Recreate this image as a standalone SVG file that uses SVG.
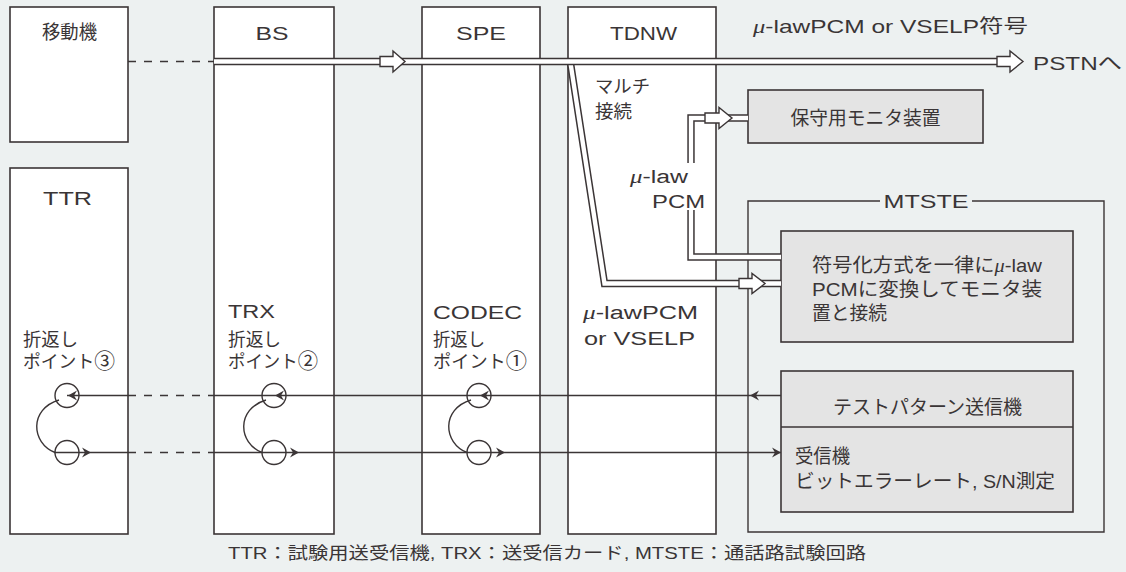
<svg xmlns="http://www.w3.org/2000/svg" width="1126" height="572" viewBox="0 0 1126 572">
<style>
.bg{fill:#edf1f1}
.box{fill:#ffffff;stroke:#3b3536;stroke-width:1.6}
.gbox{fill:#e4e4e4;stroke:#3b3536;stroke-width:1.6}
.ln{fill:none;stroke:#3b3536;stroke-width:1.4}
.dash{fill:none;stroke:#3b3536;stroke-width:1.4;stroke-dasharray:8 8}
.pipeO{fill:none;stroke:#3b3536;stroke-width:7.4;stroke-linejoin:miter}
.pipeI{fill:none;stroke:#ffffff;stroke-width:4.4;stroke-linejoin:miter}
.harr{fill:#ffffff;stroke:#3b3536;stroke-width:1.4;stroke-linejoin:miter}
.ah{fill:#3b3536}
text{font-family:"Liberation Sans","Noto Sans CJK JP",sans-serif;fill:#3a3536}
.h{font-size:19px}
.t{font-size:18px}
.c{font-size:17px}
.num{font-size:21px}
.mu{font-family:"Liberation Serif","DejaVu Serif",serif;font-style:italic}
</style>
<defs>
<path id="ahR" d="M0,0 L-9,-5 L-6,0 L-9,5 Z"/>
<path id="ahL" d="M0,0 L9,-5 L6,0 L9,5 Z"/>
</defs>
<rect class="bg" x="0" y="0" width="1126" height="572"/>

<g id="node-mobile">
<rect class="box" x="10" y="7" width="118" height="135"/>
<text class="h" x="69.5" y="39" text-anchor="middle" textLength="55" lengthAdjust="spacingAndGlyphs">移動機</text>
</g>
<g id="node-ttr">
<rect class="box" x="10" y="168" width="118" height="366"/>
<text class="h" x="67.5" y="205" text-anchor="middle" textLength="49" lengthAdjust="spacingAndGlyphs">TTR</text>
<text class="t" x="23" y="346" textLength="55" lengthAdjust="spacingAndGlyphs">折返し</text>
<text class="t" x="23" y="368" textLength="92" lengthAdjust="spacingAndGlyphs">ポイント<tspan class="num">③</tspan></text>
</g>
<g id="node-bs">
<rect class="box" x="214" y="7" width="120" height="527"/>
<text class="h" x="272" y="40" text-anchor="middle" textLength="33" lengthAdjust="spacingAndGlyphs">BS</text>
<text class="t" x="228" y="318" textLength="47" lengthAdjust="spacingAndGlyphs">TRX</text>
<text class="t" x="228" y="346" textLength="53" lengthAdjust="spacingAndGlyphs">折返し</text>
<text class="t" x="228" y="368" textLength="90" lengthAdjust="spacingAndGlyphs">ポイント<tspan class="num">②</tspan></text>
</g>
<g id="node-spe">
<rect class="box" x="422" y="7" width="118" height="527"/>
<text class="h" x="481" y="40" text-anchor="middle" textLength="50" lengthAdjust="spacingAndGlyphs">SPE</text>
<text class="t" x="433" y="319" textLength="89" lengthAdjust="spacingAndGlyphs">CODEC</text>
<text class="t" x="433" y="346" textLength="52" lengthAdjust="spacingAndGlyphs">折返し</text>
<text class="t" x="433" y="368" textLength="94" lengthAdjust="spacingAndGlyphs">ポイント<tspan class="num">①</tspan></text>
</g>
<g id="node-tdnw">
<rect class="box" x="568" y="7" width="148" height="527"/>
<text class="h" x="643.5" y="40" text-anchor="middle" textLength="67" lengthAdjust="spacingAndGlyphs">TDNW</text>
<text class="t" x="595" y="93" textLength="55" lengthAdjust="spacingAndGlyphs">マルチ</text>
<text class="t" x="595" y="118" textLength="37" lengthAdjust="spacingAndGlyphs">接続</text>
<text class="t" x="583" y="319" textLength="115" lengthAdjust="spacingAndGlyphs"><tspan class="mu">μ</tspan>-lawPCM</text>
<text class="t" x="584" y="345" textLength="111" lengthAdjust="spacingAndGlyphs">or VSELP</text>
</g>
<g id="node-monitor">
<rect class="gbox" x="748" y="90" width="235" height="53"/>
<text class="h" x="865.5" y="125" text-anchor="middle" textLength="150" lengthAdjust="spacingAndGlyphs">保守用モニタ装置</text>
</g>
<g id="node-mtste">
<path class="ln" d="M880,201 H748 V532 H1104 V201 H972"/>
<text class="h" x="926" y="208" text-anchor="middle" textLength="85" lengthAdjust="spacingAndGlyphs">MTSTE</text>
</g>
<g id="node-converter">
<rect class="gbox" x="781" y="231" width="292" height="111"/>
<text class="h" x="812" y="272" textLength="230" lengthAdjust="spacingAndGlyphs">符号化方式を一律に<tspan class="mu">μ</tspan>-law</text>
<text class="h" x="812" y="296" textLength="230" lengthAdjust="spacingAndGlyphs">PCMに変換してモニタ装</text>
<text class="h" x="812" y="320" textLength="75" lengthAdjust="spacingAndGlyphs">置と接続</text>
</g>
<g id="node-tester">
<rect class="gbox" x="781" y="371" width="292" height="141"/>
<line class="ln" x1="781" y1="427" x2="1073" y2="427" style="stroke-width:1.6"/>
<text class="h" x="927.5" y="414" text-anchor="middle" textLength="189" lengthAdjust="spacingAndGlyphs">テストパターン送信機</text>
<text class="h" x="795" y="463" textLength="55" lengthAdjust="spacingAndGlyphs">受信機</text>
<text class="h" x="795" y="488" textLength="260" lengthAdjust="spacingAndGlyphs">ビットエラーレート, S/N測定</text>
</g>

<g id="connectors">
<line class="dash" x1="128" y1="61.5" x2="214" y2="61.5"/>
<path class="pipeO" d="M570.5,63 L604.5,283.5 H781"/>
<path class="pipeI" d="M570.5,63 L604.5,283.5 H781"/>
<path class="pipeO" d="M748,118 H691 V163"/>
<path class="pipeI" d="M748,118 H691 V163"/>
<path class="pipeO" d="M691,210 V257 H781"/>
<path class="pipeI" d="M691,210 V257 H781"/>
<path class="pipeO" d="M214,61.5 H1000"/>
<path class="pipeI" d="M214,61.5 H1000"/>
<polygon class="harr" points="380,56.5 393,56.5 393,51 405,61.5 393,72 393,66.5 380,66.5"/>
<polygon class="harr" points="997,56.5 1010,56.5 1010,51 1023,61.5 1010,72 1010,66.5 997,66.5"/>
<polygon class="harr" points="705,113 719,113 719,107.5 732,118 719,128.5 719,123 705,123"/>
<polygon class="harr" points="739,278.5 752,278.5 752,273.5 765,283.5 752,293.5 752,288.5 739,288.5"/>
<text class="h" x="753" y="33" textLength="275" lengthAdjust="spacingAndGlyphs"><tspan class="mu">μ</tspan>-lawPCM or VSELP符号</text>
<text class="h" x="1033" y="70" textLength="89" lengthAdjust="spacingAndGlyphs">PSTNへ</text>
<text class="t" x="630" y="183" textLength="58" lengthAdjust="spacingAndGlyphs"><tspan class="mu">μ</tspan>-law</text>
<text class="t" x="652" y="208" textLength="53" lengthAdjust="spacingAndGlyphs">PCM</text>
<line class="ln" x1="67" y1="395.5" x2="128" y2="395.5"/>
<line class="dash" x1="128" y1="395.5" x2="214" y2="395.5"/>
<line class="ln" x1="214" y1="395.5" x2="781" y2="395.5"/>
<line class="ln" x1="54" y1="452.5" x2="128" y2="452.5"/>
<line class="dash" x1="128" y1="452.5" x2="214" y2="452.5"/>
<line class="ln" x1="214" y1="452.5" x2="781" y2="452.5"/>
<use href="#ahL" x="750" y="395.5" class="ah"/>
<use href="#ahR" x="781" y="452.5" class="ah"/>
<g id="loop3">
<circle class="ln" cx="67" cy="395.5" r="12"/>
<circle class="ln" cx="67" cy="452.5" r="12"/>
<path class="ln" d="M59,400 C29,409 31,443 55,452.5"/>
<use href="#ahL" x="68" y="395.5" class="ah"/>
<use href="#ahR" x="91" y="452.5" class="ah"/>
</g>
<g id="loop2">
<circle class="ln" cx="274" cy="395.5" r="12"/>
<circle class="ln" cx="274" cy="452.5" r="12"/>
<path class="ln" d="M266,400 C236,409 238,443 262,452.5"/>
<use href="#ahL" x="275" y="395.5" class="ah"/>
<use href="#ahR" x="299" y="452.5" class="ah"/>
</g>
<g id="loop1">
<circle class="ln" cx="479" cy="395.5" r="12"/>
<circle class="ln" cx="479" cy="452.5" r="12"/>
<path class="ln" d="M471,400 C441,409 443,443 467,452.5"/>
<use href="#ahL" x="480" y="395.5" class="ah"/>
<use href="#ahR" x="505" y="452.5" class="ah"/>
</g>
</g>

<text class="c" x="228" y="559" textLength="638" lengthAdjust="spacingAndGlyphs">TTR：試験用送受信機, TRX：送受信カード, MTSTE：通話路試験回路</text>
</svg>
